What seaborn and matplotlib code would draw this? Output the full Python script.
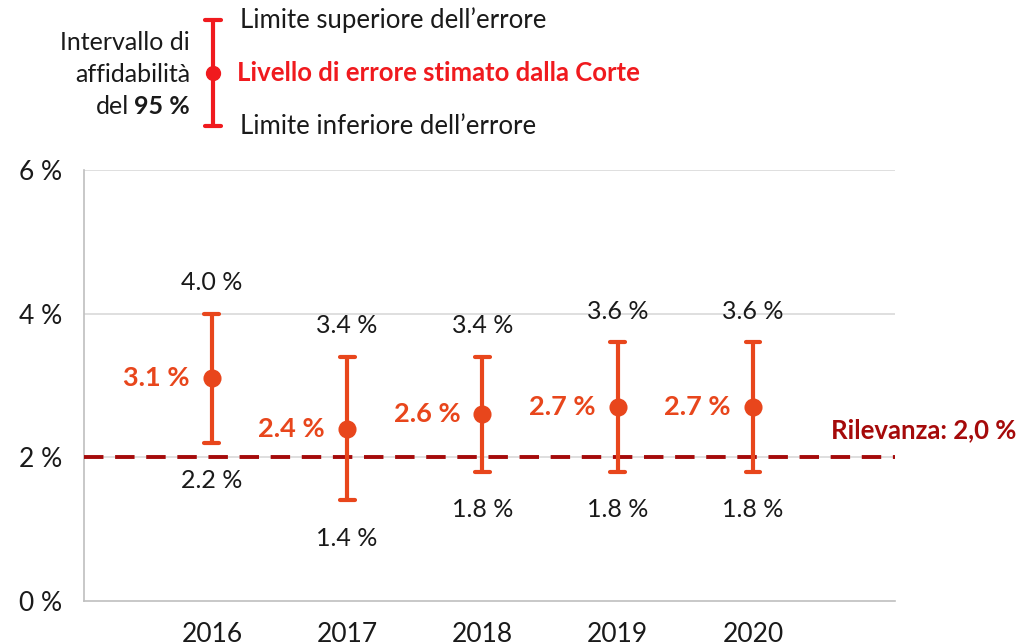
import matplotlib
matplotlib.use("Agg")
import matplotlib.pyplot as plt
from matplotlib.lines import Line2D
import seaborn as sns
import pandas as pd

years = ["2016", "2017", "2018", "2019", "2020"]
estimate = [3.1, 2.4, 2.6, 2.7, 2.7]
upper = [4.0, 3.4, 3.4, 3.6, 3.6]
lower = [2.2, 1.4, 1.8, 1.8, 1.8]
threshold = 2.0
yticks = [0, 2, 4, 6]
ytick_labels = ["0 %", "2 %", "4 %", "6 %"]

sns.set_theme(style="white")
plt.rcParams["font.family"] = ["Lato", "DejaVu Sans"]

ORANGE = "#E8461C"
DARKRED = "#A50A0A"
LEGRED = "#F01A1E"
GRID = "#D9D9D9"
TXT = "#1A1A1A"

W, H = 1023, 643
fig = plt.figure(figsize=(W / 100, H / 100), dpi=100)
ax = fig.add_axes([84 / W, 1 - 601 / H, (895 - 84) / W, (601 - 170) / H])

rows = []
for y, lo, e, hi in zip(years, lower, estimate, upper):
    rows += [(y, lo), (y, e), (y, hi)]
df = pd.DataFrame(rows, columns=["year", "value"])

sns.pointplot(data=df, x="year", y="value", estimator="median",
              errorbar=lambda v: (v.min(), v.max()), linestyle="none",
              color=ORANGE, markersize=11, err_kws={"linewidth": 3.0},
              capsize=0.11, ax=ax, zorder=5)

ax.set_xlim(-0.945, 5.05)
ax.set_ylim(0, 6)
ax.set_yticks(yticks)
ax.set_yticklabels(ytick_labels, fontsize=19, color=TXT)
ax.set_xlabel("")
ax.set_ylabel("")
ax.tick_params(axis="x", length=0, labelsize=19, colors=TXT, pad=15)
ax.tick_params(axis="y", length=7, width=1, color="#BFBFBF", pad=9)
for lab in ax.get_xticklabels():
    lab.set_color(TXT)

for s in ["top", "right"]:
    ax.spines[s].set_visible(False)
ax.spines["left"].set_color("#BFBFBF")
ax.spines["bottom"].set_color("#BFBFBF")
ax.spines["left"].set_linewidth(1.2)
ax.spines["bottom"].set_linewidth(1.2)
for yv in yticks[1:]:
    ax.axhline(yv, color=GRID, linewidth=1.2, zorder=0)

ax.axhline(threshold, color=DARKRED, linewidth=2.8, linestyle=(0, (5, 3)), zorder=3)
ax.text(1.15, threshold + 0.38, "Rilevanza: 2,0 %", transform=ax.get_yaxis_transform(),
        ha="right", va="center", fontsize=18.5, fontweight="bold", color=DARKRED, clip_on=False)

for i, (lo, e, hi) in enumerate(zip(lower, estimate, upper)):
    ax.annotate(f"{hi:.1f} %", (i, hi), xytext=(0, 31), textcoords="offset pixels",
                ha="center", va="center", fontsize=18, color=TXT)
    ax.annotate(f"{lo:.1f} %", (i, lo), xytext=(0, -38), textcoords="offset pixels",
                ha="center", va="center", fontsize=18, color=TXT)
    ax.annotate(f"{e:.1f} %", (i, e), xytext=(-22, 0), textcoords="offset pixels",
                ha="right", va="center", fontsize=19.5, fontweight="bold", color=ORANGE)

# Legend (key) at top
def fx(px):
    return px / W

def fy(py):
    return 1 - py / H

fig.add_artist(Line2D([fx(213), fx(213)], [fy(20), fy(126)], color=LEGRED, lw=3))
for py in (20, 126):
    fig.add_artist(Line2D([fx(205), fx(221)], [fy(py), fy(py)], color=LEGRED, lw=3))
fig.add_artist(Line2D([fx(213)], [fy(73)], marker="o", markersize=10, color=LEGRED))
fig.text(fx(190), fy(42), "Intervallo di", ha="right", va="center", fontsize=18, color=TXT)
fig.text(fx(190), fy(74), "affidabilità", ha="right", va="center", fontsize=18, color=TXT)
t95 = fig.text(fx(190), fy(106), "95 %", ha="right", va="center", fontsize=18, color=TXT,
               fontweight="bold")
fig.canvas.draw()
bb = t95.get_window_extent(renderer=fig.canvas.get_renderer())
fig.text(bb.x0 / W - 5 / W, fy(106), "del", ha="right", va="center", fontsize=18, color=TXT)
fig.text(fx(240), fy(20), "Limite superiore dell\u2019errore", ha="left", va="center", fontsize=18.5, color=TXT)
fig.text(fx(237), fy(73), "Livello di errore stimato dalla Corte", ha="left", va="center",
         fontsize=18.5, color=LEGRED, fontweight="bold")
fig.text(fx(240), fy(126), "Limite inferiore dell\u2019errore", ha="left", va="center", fontsize=18.5, color=TXT)

fig.savefig("out.png", dpi=100)
